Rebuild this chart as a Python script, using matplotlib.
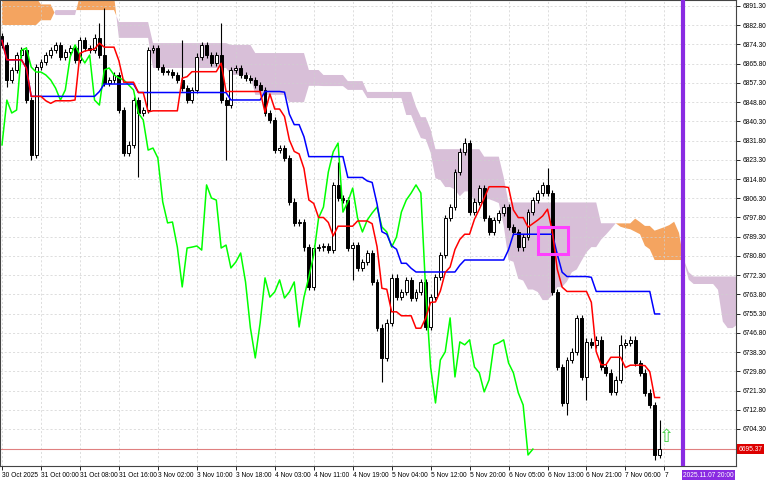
import numpy as np
import pandas as pd
import matplotlib
matplotlib.use("Agg")
import matplotlib.pyplot as plt
from matplotlib.patches import Rectangle

plt.rcParams['font.family'] = ['Liberation Sans', 'DejaVu Sans']

# ---- data ----
close = [6874.1, 6858.6, 6863.0, 6869.6, 6871.8, 6849.7, 6825.4, 6864.3, 6866.5, 6869.6,
         6871.8, 6874.1, 6868.8, 6871.0, 6872.7, 6867.4, 6876.3, 6872.7, 6871.8, 6877.2,
         6869.6, 6857.3, 6858.6, 6860.8, 6845.3, 6826.3, 6829.9, 6849.7, 6844.0, 6845.3,
         6871.8, 6872.7, 6864.3, 6862.1, 6862.1, 6860.8, 6858.6, 6855.0, 6849.7, 6854.2,
         6868.8, 6874.1, 6869.6, 6866.1, 6869.6, 6849.7, 6847.5, 6863.0, 6863.9, 6860.8,
         6859.5, 6858.6, 6856.4, 6854.2, 6844.0, 6840.9, 6827.6, 6828.5, 6824.1, 6804.7,
         6795.4, 6795.8, 6784.7, 6767.1, 6784.3, 6784.7, 6785.2, 6783.4, 6812.2, 6806.4,
         6805.5, 6784.3, 6785.6, 6775.5, 6778.1, 6782.1, 6769.3, 6749.0, 6735.7, 6751.2,
         6771.1, 6762.6, 6764.9, 6770.2, 6762.2, 6764.9, 6769.3, 6749.4, 6762.6, 6771.5,
         6781.2, 6797.6, 6802.4, 6817.9, 6826.8, 6830.7, 6800.2, 6804.7, 6810.8, 6797.6,
         6791.4, 6796.7, 6799.8, 6802.4, 6793.6, 6791.4, 6784.7, 6789.2, 6800.2, 6805.5,
         6808.6, 6812.2, 6808.6, 6764.9, 6731.7, 6715.8, 6734.8, 6738.4, 6753.4, 6727.3,
         6742.8, 6741.5, 6743.7, 6731.7, 6729.1, 6720.7, 6726.0, 6741.5, 6742.4, 6743.7,
         6733.5, 6729.1, 6720.3, 6714.9, 6692.8, 6695.4]
first_open = 6878.0
long_highs = {20: 6883.8, 21: 6890.4, 37: 6876.3, 45: 6883.8, 69: 6822.3, 95: 6832.9,
              112: 6819.7, 127: 6745.8, 135: 6708.3}
long_lows = {1: 6855.5, 6: 6823.2, 28: 6815.7, 46: 6823.2, 72: 6770.2, 78: 6725.1,
             116: 6710.5, 120: 6717.1, 134: 6690.6}
# cloud spans for the first bars (before enough history)
early_span_a = ([6895.0]*8 + [6892.0]*3 + [6887.3]*5 + [6896.0]*8 + [6877.2]*7 +
                [6863.9]*16 + [6860.8]*5 + [6852.0]*7 + [6848.8]*4 + [6856.0]*3 +
                [6855.9]*5 + [6854.2]*4 + [6850.6]*8 + [6843.1]*2)
early_span_b = ([6882.9]*8 + [6885.0]*3 + [6889.5]*5 + [6889.5]*8 + [6884.2]*7 +
                [6874.9]*16 + [6874.1]*5 + [6870.5]*7 + [6870.5]*4 + [6863.0]*3 +
                [6860.8]*5 + [6858.1]*4 + [6853.3]*8 + [6853.3]*2)
ytick_vals = [6891.30, 6882.80, 6874.30, 6865.80, 6857.30, 6848.80, 6840.30, 6831.80,
              6823.30, 6814.80, 6806.30, 6797.80, 6789.30, 6780.80, 6772.30, 6763.80,
              6755.30, 6746.80, 6738.30, 6729.80, 6721.30, 6712.80, 6704.30]
xtick_labels = ["30 Oct 2025", "31 Oct 00:00", "31 Oct 08:00", "31 Oct 16:00", "3 Nov 02:00",
                "3 Nov 10:00", "3 Nov 18:00", "4 Nov 03:00", "4 Nov 11:00", "4 Nov 19:00",
                "5 Nov 04:00", "5 Nov 12:00", "5 Nov 20:00", "6 Nov 05:00", "6 Nov 13:00",
                "6 Nov 21:00", "7 Nov 06:00", "7"]
current_price = 6695.37
vline_label = "2025.11.07 20:00"

# ---- derived ----
n = len(close)
c = np.array(close)
o = np.concatenate([[first_open], c[:-1]])
wick = 1.5
h = np.maximum(o, c) + wick
l = np.minimum(o, c) - wick
for k, v in long_highs.items():
    h[k] = v
for k, v in long_lows.items():
    l[k] = v
hs, ls = pd.Series(h), pd.Series(l)
tenkan = (hs.rolling(9, min_periods=1).max() + ls.rolling(9, min_periods=1).min()) / 2
kijun = (hs.rolling(26, min_periods=1).max() + ls.rolling(26, min_periods=1).min()) / 2
sb = (hs.rolling(52, min_periods=1).max() + ls.rolling(52, min_periods=1).min()) / 2
sa = (tenkan + kijun) / 2
ne = len(early_span_a)
span_a = np.concatenate([early_span_a, sa.values[ne - 26:]])
span_b = np.concatenate([early_span_b, sb.values[ne - 26:]])
xs = np.arange(len(span_a))
idx = np.arange(n)

fig = plt.figure(figsize=(7.68, 4.8), dpi=100)
ax = fig.add_axes([0, 1 - 466/480, 736/768, 466/480])
ax.set_xlim(-0.41, 150.7)
ax.set_ylim(6687.93, 6893.95)

ax.fill_between(xs, span_a, span_b, where=span_a >= span_b, interpolate=True,
                color="#f4a460", lw=0, zorder=1)
ax.fill_between(xs, span_a, span_b, where=span_a < span_b, interpolate=True,
                color="#d8bfd8", lw=0, zorder=1)

for i in range(n):
    ax.vlines(i, l[i], h[i], color="black", lw=0.8, zorder=3)
    bull = c[i] >= o[i]
    bot = min(o[i], c[i]); ht = max(abs(c[i] - o[i]), 0.3)
    ax.add_patch(Rectangle((i - 0.3, bot), 0.6, ht, facecolor="white" if bull else "black",
                           edgecolor="black", lw=0.7, zorder=4))

ax.plot(idx[:n-26], c[26:], color="#00ff00", lw=1.1, zorder=5)
ax.plot(idx, kijun, color="#0000ff", lw=1.1, zorder=5)
ax.plot(idx, tenkan, color="#ff0000", lw=1.1, zorder=5)

ax.axhline(current_price, color="#e08080", lw=0.8, zorder=2)
ax.axvline(139.8, color="#8a2be2", lw=3, zorder=6)
ax.add_patch(Rectangle((110.1, 6781.5), 6.2, 12.0, fill=False, edgecolor="#ff40ff", lw=2.2, zorder=7))
ax.text(136.5, 6700.8, "⇧", color="#40d040", fontsize=13, ha="center", va="center",
        family=['DejaVu Sans'], zorder=7)

ax.yaxis.tick_right()
ax.set_yticks(ytick_vals)
ax.set_yticklabels([f"{v:.2f}" for v in ytick_vals], fontsize=4.8)
xt = np.arange(0, 8*len(xtick_labels), 8)
ax.set_xticks(xt)
ax.set_xticklabels(xtick_labels, fontsize=4.8, ha="left")
ax.tick_params(length=3, width=0.6, pad=1.5)
ax.grid(True, color="#d0d0d0", ls=(0, (3, 3)), lw=0.5)
for s in ax.spines.values():
    s.set_linewidth(0.8); s.set_color("#444444")

ax.text(1.003, current_price, f"{current_price:.2f}", transform=ax.get_yaxis_transform(),
        fontsize=4.8, color="white", va="center", ha="left",
        bbox=dict(boxstyle="square,pad=0.2", fc="#dd0000", ec="none"), zorder=8)
ax.text(139.8, -0.012, vline_label, transform=ax.get_xaxis_transform(), fontsize=4.8,
        color="white", va="top", ha="left",
        bbox=dict(boxstyle="square,pad=0.2", fc="#8a2be2", ec="none"), zorder=8, clip_on=False)

fig.savefig("out.png", dpi=100)
